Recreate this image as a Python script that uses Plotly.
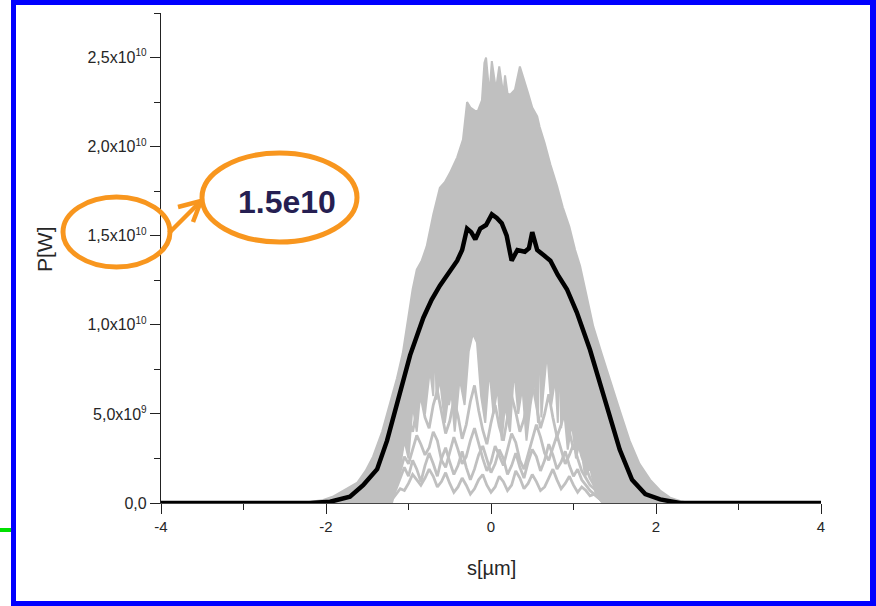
import plotly.graph_objects as go

# ---- data (s in micrometres, power in units of 1e10 W) ----
# upper edge of the bundle of single-shot power profiles
env_s = [-2.30, -2.19, -2.05, -1.92, -1.78, -1.62, -1.52, -1.43, -1.32, -1.22, -1.14, -1.07,
         -1.00, -0.95, -0.90, -0.84, -0.78, -0.70, -0.62, -0.56, -0.50, -0.45, -0.41, -0.34,
         -0.29, -0.25, -0.19, -0.16, -0.11, -0.08, -0.06, -0.04, -0.02, 0.01, 0.04, 0.06,
         0.10, 0.13, 0.15, 0.17, 0.20, 0.23, 0.29, 0.35, 0.40, 0.45, 0.50, 0.56, 0.59, 0.65,
         0.72, 0.80, 0.87, 0.95, 1.02, 1.08, 1.16, 1.24, 1.34, 1.44, 1.56, 1.68, 1.80, 1.93,
         2.05, 2.17, 2.30, 2.41]
env_p = [0.0, 0.005, 0.015, 0.035, 0.07, 0.114, 0.18, 0.26, 0.40, 0.56, 0.70, 0.84,
         1.05, 1.20, 1.31, 1.36, 1.44, 1.62, 1.77, 1.80, 1.85, 1.90, 1.94, 2.04,
         2.25, 2.22, 2.20, 2.20, 2.26, 2.47, 2.50, 2.40, 2.29, 2.48, 2.38, 2.32,
         2.45, 2.35, 2.29, 2.40, 2.30, 2.29, 2.32, 2.45, 2.38, 2.30, 2.22, 2.17, 2.11, 2.02,
         1.90, 1.78, 1.66, 1.55, 1.42, 1.33, 1.16, 0.99, 0.84, 0.69, 0.52, 0.35, 0.22, 0.13,
         0.07, 0.03, 0.01, 0.0]

# lower edge of the dense part of the bundle
core_s = [-2.30, -1.20, -1.12, -1.05, -1.00, -0.95, -0.90, -0.85, -0.80, -0.74, -0.70, -0.68,
          -0.66, -0.62, -0.56, -0.53, -0.52, -0.51, -0.48, -0.44, -0.38, -0.32, -0.27, -0.22,
          -0.17, -0.12, -0.07, -0.02, 0.03, 0.08, 0.13, 0.16, 0.17, 0.18, 0.23, 0.28, 0.33,
          0.38, 0.43, 0.48, 0.53, 0.57, 0.59, 0.61, 0.63, 0.68, 0.73, 0.78, 0.81, 0.83, 0.85,
          0.88, 0.93, 0.98, 1.03, 1.08, 1.14, 1.20, 1.27, 1.35, 2.41]
core_p = [0.0, 0.0, 0.15, 0.35, 0.25, 0.55, 0.40, 0.65, 0.50, 0.75, 0.60, 0.95,
          0.58, 0.70, 0.45, 0.55, 0.98, 0.55, 0.62, 0.40, 0.70, 0.55, 0.85, 0.95,
          0.90, 0.60, 0.45, 0.75, 0.50, 0.65, 0.35, 0.50, 1.05, 0.52, 0.40, 0.75, 0.50,
          0.65, 0.35, 0.55, 0.70, 0.45, 1.12, 0.48, 0.60, 0.85, 0.55, 0.70, 0.45, 0.92, 0.42,
          0.55, 0.30, 0.45, 0.25, 0.35, 0.15, 0.20, 0.05, 0.0, 0.0]

# weak single shots below the dense part
low_s = [-1.25, -1.20, -1.15, -1.10, -1.05, -1.00, -0.95, -0.90, -0.85, -0.80,
         -0.75, -0.70, -0.65, -0.60, -0.55, -0.50, -0.45, -0.40, -0.35, -0.30,
         -0.25, -0.20, -0.15, -0.10, -0.05, 0.00, 0.05, 0.10, 0.15, 0.20,
         0.25, 0.30, 0.35, 0.40, 0.45, 0.50, 0.55, 0.60, 0.65, 0.70,
         0.75, 0.80, 0.85, 0.90, 0.95, 1.00, 1.05, 1.10, 1.15, 1.20,
         1.25, 1.30, 1.35, 1.40]
shot_a = [0.00, 0.02, 0.05, 0.08, 0.07, 0.11, 0.16, 0.13, 0.10, 0.14,
          0.19, 0.15, 0.09, 0.12, 0.17, 0.11, 0.06, 0.09, 0.14, 0.10,
          0.05, 0.08, 0.13, 0.16, 0.10, 0.06, 0.09, 0.15, 0.12, 0.07,
          0.10, 0.18, 0.14, 0.08, 0.11, 0.16, 0.12, 0.07, 0.09, 0.14,
          0.19, 0.13, 0.08, 0.11, 0.15, 0.10, 0.06, 0.09, 0.07, 0.04,
          0.05, 0.03, 0.01, 0.00]
shot_b = [0.00, 0.04, 0.10, 0.18, 0.26, 0.22, 0.30, 0.38, 0.33, 0.27,
          0.31, 0.40, 0.35, 0.24, 0.20, 0.28, 0.37, 0.30, 0.22, 0.26,
          0.35, 0.42, 0.33, 0.25, 0.18, 0.23, 0.32, 0.27, 0.21, 0.30,
          0.39, 0.34, 0.24, 0.19, 0.27, 0.36, 0.44, 0.37, 0.28, 0.24,
          0.31, 0.38, 0.30, 0.22, 0.27, 0.33, 0.25, 0.18, 0.14, 0.10,
          0.08, 0.05, 0.02, 0.00]
shot_c = [0.00, 0.06, 0.15, 0.26, 0.38, 0.47, 0.40, 0.52, 0.60, 0.48,
          0.42, 0.55, 0.63, 0.50, 0.39, 0.46, 0.58, 0.49, 0.36, 0.44,
          0.57, 0.66, 0.52, 0.41, 0.33, 0.45, 0.55, 0.43, 0.35, 0.48,
          0.60, 0.51, 0.40, 0.47, 0.59, 0.68, 0.54, 0.42, 0.50, 0.61,
          0.48, 0.37, 0.44, 0.52, 0.40, 0.30, 0.35, 0.26, 0.20, 0.14,
          0.10, 0.06, 0.03, 0.00]
shot_d = [0.00, 0.03, 0.08, 0.14, 0.20, 0.15, 0.24, 0.19, 0.12, 0.21,
          0.28, 0.22, 0.15, 0.25, 0.31, 0.23, 0.16, 0.21, 0.29, 0.20,
          0.13, 0.19, 0.27, 0.32, 0.24, 0.17, 0.22, 0.30, 0.25, 0.16,
          0.21, 0.28, 0.20, 0.14, 0.23, 0.30, 0.26, 0.18, 0.24, 0.33,
          0.27, 0.19, 0.23, 0.29, 0.21, 0.15, 0.19, 0.13, 0.10, 0.07,
          0.05, 0.03, 0.01, 0.00]

# average over all shots
mean_s = [-4.00, -2.19, -1.95, -1.71, -1.55, -1.38, -1.26, -1.14, -0.98, -0.82, -0.72, -0.62,
          -0.50, -0.41, -0.35, -0.29, -0.24, -0.19, -0.13, -0.06, 0.01, 0.07, 0.13, 0.19, 0.25,
          0.32, 0.41, 0.46, 0.50, 0.56, 0.64, 0.72, 0.81, 0.92, 1.04, 1.20, 1.38, 1.56, 1.71,
          1.87, 2.05, 2.29, 4.00]
mean_p = [0.0, 0.0, 0.007, 0.035, 0.10, 0.19, 0.35, 0.56, 0.83, 1.04, 1.14, 1.22,
          1.30, 1.36, 1.42, 1.54, 1.52, 1.48, 1.54, 1.56, 1.62, 1.60, 1.57, 1.50, 1.36,
          1.42, 1.41, 1.43, 1.52, 1.42, 1.39, 1.36, 1.28, 1.20, 1.07, 0.86, 0.58, 0.30, 0.13,
          0.05, 0.02, 0.0, 0.0]

UNIT = 1e10
SUP = "<sup><span style='font-size:10px'>{}</span></sup>"
y_ticks = [0, 0.5e10, 1.0e10, 1.5e10, 2.0e10, 2.5e10]
y_ticktext = ["0,0", "5,0x10" + SUP.format(9), "1,0x10" + SUP.format(10),
              "1,5x10" + SUP.format(10), "2,0x10" + SUP.format(10), "2,5x10" + SUP.format(10)]
x_ticks = [-4, -2, 0, 2, 4]
x_ticktext = ["-4", "-2", "0", "2", "4"]

GRAY = "#C0C0C0"
ORANGE = "#F8961E"
FONT = "Liberation Sans, Arial, sans-serif"
TXT = "#262626"

fig = go.Figure()

# shaded bundle: upper edge left-to-right, then lower edge right-to-left
poly_s = env_s + core_s[::-1]
poly_p = [v * UNIT for v in env_p] + [v * UNIT for v in core_p[::-1]]
fig.add_trace(go.Scatter(x=poly_s, y=poly_p, mode="lines", fill="toself", fillcolor=GRAY,
                         line=dict(color=GRAY, width=2), hoverinfo="skip", showlegend=False))

for ys in [shot_a, shot_b, shot_c, shot_d]:
    fig.add_trace(go.Scatter(x=low_s, y=[v * UNIT for v in ys], mode="lines",
                             line=dict(color=GRAY, width=2.8), showlegend=False))

fig.add_trace(go.Scatter(x=mean_s, y=[v * UNIT for v in mean_p], mode="lines",
                         line=dict(color="black", width=4.5), showlegend=False))

# plot area in page pixels
PL, PR, PT, PB = 161, 821, 13, 503
W, H = 876, 606


def px(x):
    return (x - PL) / (PR - PL)


def py(y):
    return (PB - y) / (PB - PT)


shapes = []
# blue page frame and small green mark
for x0, y0, x1, y1, c in [(11, 0, 16, 606, "#0000FF"), (11, 0, 876, 5, "#0000FF"),
                          (870, 0, 876, 606, "#0000FF"), (11, 601, 876, 606, "#0000FF"),
                          (0, 528, 11, 532, "#00E000")]:
    shapes.append(dict(type="rect", xref="paper", yref="paper", x0=px(x0), x1=px(x1),
                       y0=py(y1), y1=py(y0), fillcolor=c, line=dict(width=0), layer="above"))

# orange callout ellipses
for x0, y0, x1, y1 in [(63, 197, 170, 267), (202, 153, 357, 242)]:
    shapes.append(dict(type="circle", xref="paper", yref="paper", x0=px(x0), x1=px(x1),
                       y0=py(y1), y1=py(y0), line=dict(color=ORANGE, width=5), layer="above"))

# callout arrow
for x0, y0, x1, y1 in [(169, 233, 201, 201), (178, 207, 201, 201), (193, 222, 201, 201)]:
    shapes.append(dict(type="line", xref="paper", yref="paper", x0=px(x0), x1=px(x1),
                       y0=py(y0), y1=py(y1), line=dict(color=ORANGE, width=4.5), layer="above"))

annotations = [
    dict(text="<b>1.5e10</b>", x=px(287), y=py(202), xref="paper", yref="paper",
         xanchor="center", yanchor="middle", showarrow=False,
         font=dict(family=FONT, size=32, color="#261F52")),
    dict(text="s[µm]", x=px(491), y=py(568), xref="paper", yref="paper",
         xanchor="center", yanchor="middle", showarrow=False,
         font=dict(family=FONT, size=20, color=TXT)),
    dict(text="P[W]", x=px(44), y=py(249), xref="paper", yref="paper", textangle=-90,
         xanchor="center", yanchor="middle", showarrow=False,
         font=dict(family=FONT, size=21, color=TXT)),
]

fig.update_layout(
    width=W, height=H,
    margin=dict(l=PL, r=W - PR, t=PT, b=H - PB, pad=0),
    paper_bgcolor="white", plot_bgcolor="white",
    font=dict(family=FONT, size=16, color=TXT),
    shapes=shapes, annotations=annotations, showlegend=False,
)
fig.update_xaxes(range=[-4, 4], tickvals=x_ticks, ticktext=x_ticktext, ticks="outside",
                 ticklen=10, tickwidth=1.3, tickcolor="#222222", showline=True,
                 linecolor="#444444", linewidth=1.3, showgrid=False, zeroline=False,
                 tickfont=dict(size=15, color=TXT),
                 minor=dict(dtick=1, ticks="outside", ticklen=6, tickwidth=1.3,
                            tickcolor="#222222", showgrid=False))
fig.update_yaxes(range=[0, 2.75e10], tickvals=y_ticks, ticktext=y_ticktext, ticks="outside",
                 ticklen=10, tickwidth=1.3, tickcolor="#222222", showline=True,
                 linecolor="#222222", linewidth=1.3, showgrid=False, zeroline=False,
                 tickfont=dict(size=16, color=TXT),
                 minor=dict(dtick=0.25e10, ticks="outside", ticklen=6, tickwidth=1.3,
                            tickcolor="#222222", showgrid=False))

fig.write_html("out.html")
